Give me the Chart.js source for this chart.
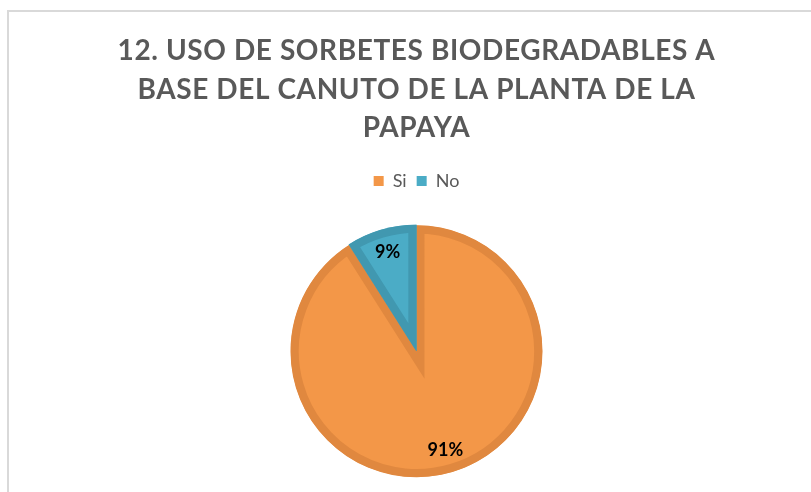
<!DOCTYPE html>
<html>
<head>
<meta charset="utf-8">
<script src="https://cdn.jsdelivr.net/npm/chart.js@4/dist/chart.umd.min.js"></script>
<style>
    html, body { margin: 0; padding: 0; background: #fff; overflow: hidden; }
    #wrap { position: relative; width: 811px; height: 515px; }
    #frame {
        position: absolute; left: 7px; top: 10px; width: 900px; height: 600px;
        border-left: 2px solid #d9d9d9; border-top: 2px solid #d9d9d9;
    }
    #chart { position: absolute; left: 0; top: 0; }
</style>
</head>
<body>
<div id="wrap">
    <div id="frame"></div>
    <canvas id="chart" width="811" height="515"></canvas>
</div>
<script>
    const titleLines = ["12. USO DE SORBETES BIODEGRADABLES A", "BASE DEL CANUTO DE LA PLANTA DE LA", "PAPAYA"];
    const categories = ["Si", "No"];
    const percentages = [91, 9];
    const fillColors = ["#F39748", "#4BACC6"];
    const edgeColors = ["#E0883F", "#4198B0"];
    const sliceOffsets = [0, 2];

    const fontName = "Lato";

    // Excel spreads the title letters a little
    const titleSpacing = {
        id: "titleSpacing",
        afterLayout: (chart) => {
            const block = chart.titleBlock;
            if (!block || block._spaced) return;
            const draw = block.draw.bind(block);
            block.draw = () => {
                chart.ctx.save();
                chart.ctx.letterSpacing = "0.6px";
                draw();
                chart.ctx.restore();
            };
            block._spaced = true;
        }
    };

    // percent labels placed inside each slice, like Excel's data labels
    const percentLabels = {
        id: "percentLabels",
        afterDatasetsDraw: (chart) => {
            const ctx = chart.ctx;
            const meta = chart.getDatasetMeta(0);
            ctx.save();
            ctx.font = `bold 18px ${fontName}`;
            ctx.fillStyle = "#000";
            ctx.textAlign = "center";
            ctx.textBaseline = "middle";
            meta.data.forEach((arc, i) => {
                const p = arc.getProps(["x", "y", "startAngle", "endAngle", "outerRadius"], true);
                const mid = (p.startAngle + p.endAngle) / 2;
                const r = p.outerRadius * 0.82;
                ctx.fillText(percentages[i] + "%", p.x + Math.cos(mid) * r, p.y + Math.sin(mid) * r);
            });
            ctx.restore();
        }
    };

    new Chart(document.getElementById("chart").getContext("2d"), {
        type: "pie",
        data: {
            labels: categories,
            datasets: [{
                data: percentages,
                backgroundColor: fillColors,
                borderColor: edgeColors,
                borderWidth: 8,
                borderAlign: "inner",
                borderJoinStyle: "miter",
                offset: sliceOffsets
            }]
        },
        options: {
            responsive: false,
            animation: false,
            radius: 126,
            layout: { padding: { left: 22, right: 0, top: 0, bottom: 12.5 } },
            plugins: {
                tooltip: { enabled: false },
                title: {
                    display: true,
                    text: titleLines,
                    color: "#595959",
                    font: { family: fontName, size: 28, weight: "bold", lineHeight: 1.375 },
                    padding: { top: 32, bottom: 14.5 }
                },
                legend: {
                    position: "top",
                    labels: {
                        color: "#595959",
                        font: { family: fontName, size: 18 },
                        boxWidth: 10,
                        boxHeight: 10,
                        padding: 10,
                        generateLabels: (chart) => Chart.overrides.pie.plugins.legend.labels.generateLabels(chart)
                            .map(l => Object.assign(l, { lineWidth: 0, strokeStyle: "transparent" }))
                    }
                }
            }
        },
        plugins: [titleSpacing, percentLabels]
    });
</script>
</body>
</html>
